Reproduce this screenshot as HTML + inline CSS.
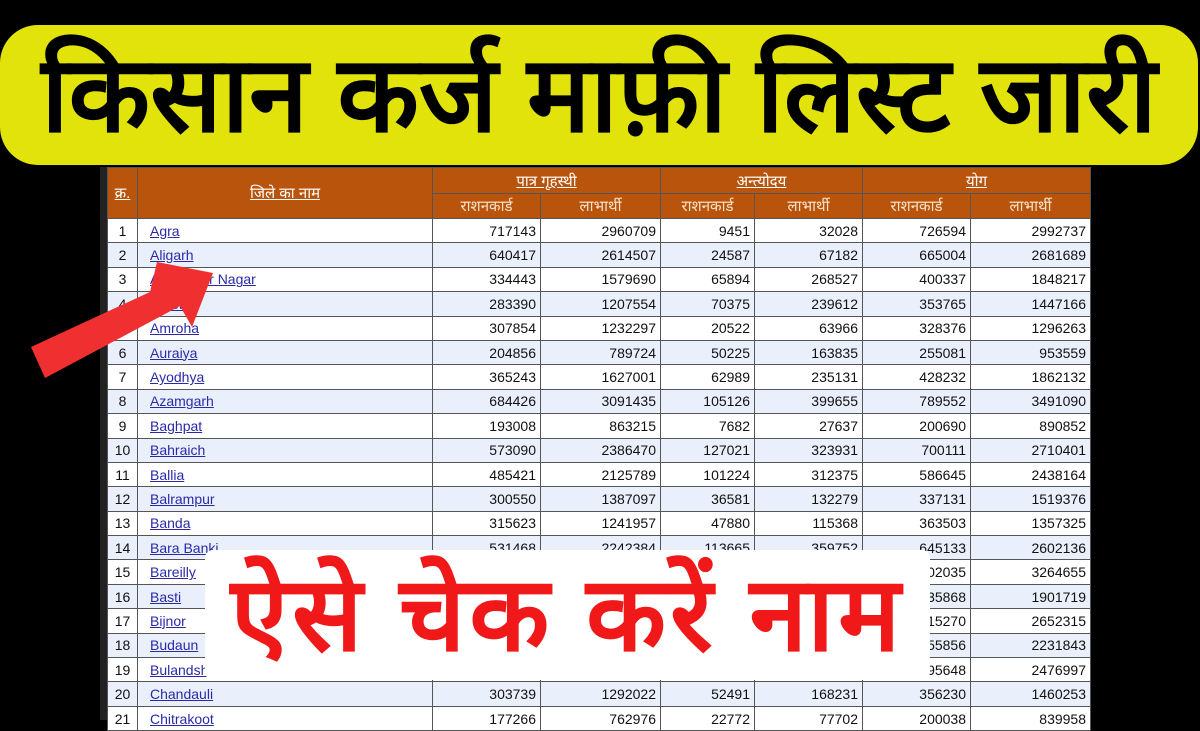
<!DOCTYPE html>
<html><head><meta charset="utf-8"><style>
*{margin:0;padding:0;box-sizing:border-box}
body{width:1200px;height:720px;overflow:hidden;background:#000;position:relative;font-family:"Liberation Sans","DejaVu Sans",sans-serif}
.banner{position:absolute;left:0;top:25px;width:1198px;height:140px;background:#e2e30a;border-radius:38px;text-align:center;font-weight:900;font-size:106px;line-height:140px;color:#000;white-space:nowrap;letter-spacing:0px}
table{position:absolute;left:107px;top:167px;border-collapse:collapse;font-size:14px;background:#fff}
td,th{border:1px solid #555;height:24.4px;padding:0 4px}
th{background:#b9540c;color:#fbe3c8;font-weight:normal;font-size:15px}
th u{color:#fff}
td{text-align:right;color:#111}
td.n{text-align:center}
td.d{text-align:left;padding-left:12px;color:#2a2aa8;text-decoration:underline}
tr.b td{background:#eaf0fb}
.edge{position:absolute;left:100px;top:167px;width:8px;height:553px;background:#222}
.box{position:absolute;left:205px;top:550px;width:725px;height:130px;background:#fff;border-radius:8px;color:#f01818;font-weight:900;font-size:104px;line-height:130px;text-align:center;white-space:nowrap;letter-spacing:4px}
svg{position:absolute;left:0;top:0}
</style></head><body>
<div class="banner">किसान कर्ज माफ़ी लिस्ट जारी</div>
<div class="edge"></div>
<table>
<colgroup><col style="width:30px"><col style="width:295px"><col style="width:108px"><col style="width:120px"><col style="width:94px"><col style="width:108px"><col style="width:108px"><col style="width:120px"></colgroup>
<tr><th rowspan="2" style="height:51px"><u>क्र.</u></th><th rowspan="2"><u>जिले का नाम</u></th><th colspan="2" style="height:26px"><u>पात्र गृहस्थी</u></th><th colspan="2"><u>अन्त्योदय</u></th><th colspan="2"><u>योग</u></th></tr>
<tr><th>राशनकार्ड</th><th>लाभार्थी</th><th>राशनकार्ड</th><th>लाभार्थी</th><th>राशनकार्ड</th><th>लाभार्थी</th></tr>
<tr><td class="n">1</td><td class="d">Agra</td><td>717143</td><td>2960709</td><td>9451</td><td>32028</td><td>726594</td><td>2992737</td></tr>
<tr class="b"><td class="n">2</td><td class="d">Aligarh</td><td>640417</td><td>2614507</td><td>24587</td><td>67182</td><td>665004</td><td>2681689</td></tr>
<tr><td class="n">3</td><td class="d">Ambedkar Nagar</td><td>334443</td><td>1579690</td><td>65894</td><td>268527</td><td>400337</td><td>1848217</td></tr>
<tr class="b"><td class="n">4</td><td class="d">Amethi</td><td>283390</td><td>1207554</td><td>70375</td><td>239612</td><td>353765</td><td>1447166</td></tr>
<tr><td class="n">5</td><td class="d">Amroha</td><td>307854</td><td>1232297</td><td>20522</td><td>63966</td><td>328376</td><td>1296263</td></tr>
<tr class="b"><td class="n">6</td><td class="d">Auraiya</td><td>204856</td><td>789724</td><td>50225</td><td>163835</td><td>255081</td><td>953559</td></tr>
<tr><td class="n">7</td><td class="d">Ayodhya</td><td>365243</td><td>1627001</td><td>62989</td><td>235131</td><td>428232</td><td>1862132</td></tr>
<tr class="b"><td class="n">8</td><td class="d">Azamgarh</td><td>684426</td><td>3091435</td><td>105126</td><td>399655</td><td>789552</td><td>3491090</td></tr>
<tr><td class="n">9</td><td class="d">Baghpat</td><td>193008</td><td>863215</td><td>7682</td><td>27637</td><td>200690</td><td>890852</td></tr>
<tr class="b"><td class="n">10</td><td class="d">Bahraich</td><td>573090</td><td>2386470</td><td>127021</td><td>323931</td><td>700111</td><td>2710401</td></tr>
<tr><td class="n">11</td><td class="d">Ballia</td><td>485421</td><td>2125789</td><td>101224</td><td>312375</td><td>586645</td><td>2438164</td></tr>
<tr class="b"><td class="n">12</td><td class="d">Balrampur</td><td>300550</td><td>1387097</td><td>36581</td><td>132279</td><td>337131</td><td>1519376</td></tr>
<tr><td class="n">13</td><td class="d">Banda</td><td>315623</td><td>1241957</td><td>47880</td><td>115368</td><td>363503</td><td>1357325</td></tr>
<tr class="b"><td class="n">14</td><td class="d">Bara Banki</td><td>531468</td><td>2242384</td><td>113665</td><td>359752</td><td>645133</td><td>2602136</td></tr>
<tr><td class="n">15</td><td class="d">Bareilly</td><td>712035</td><td>3000000</td><td>90000</td><td>264655</td><td>802035</td><td>3264655</td></tr>
<tr class="b"><td class="n">16</td><td class="d">Basti</td><td>385868</td><td>1700000</td><td>50000</td><td>201719</td><td>435868</td><td>1901719</td></tr>
<tr><td class="n">17</td><td class="d">Bijnor</td><td>555270</td><td>2400000</td><td>60000</td><td>252315</td><td>615270</td><td>2652315</td></tr>
<tr class="b"><td class="n">18</td><td class="d">Budaun</td><td>495856</td><td>2000000</td><td>60000</td><td>231843</td><td>555856</td><td>2231843</td></tr>
<tr><td class="n">19</td><td class="d">Bulandshahr</td><td>535648</td><td>2200000</td><td>60000</td><td>276997</td><td>595648</td><td>2476997</td></tr>
<tr class="b"><td class="n">20</td><td class="d">Chandauli</td><td>303739</td><td>1292022</td><td>52491</td><td>168231</td><td>356230</td><td>1460253</td></tr>
<tr><td class="n">21</td><td class="d">Chitrakoot</td><td>177266</td><td>762976</td><td>22772</td><td>77702</td><td>200038</td><td>839958</td></tr>
</table>
<svg width="1200" height="720"><polygon points="31,347 150,292 157,262 213,273 192,327 180,306 45,378" fill="#f03030"/></svg>
<div class="box">ऐसे चेक करें नाम</div>
</body></html>
